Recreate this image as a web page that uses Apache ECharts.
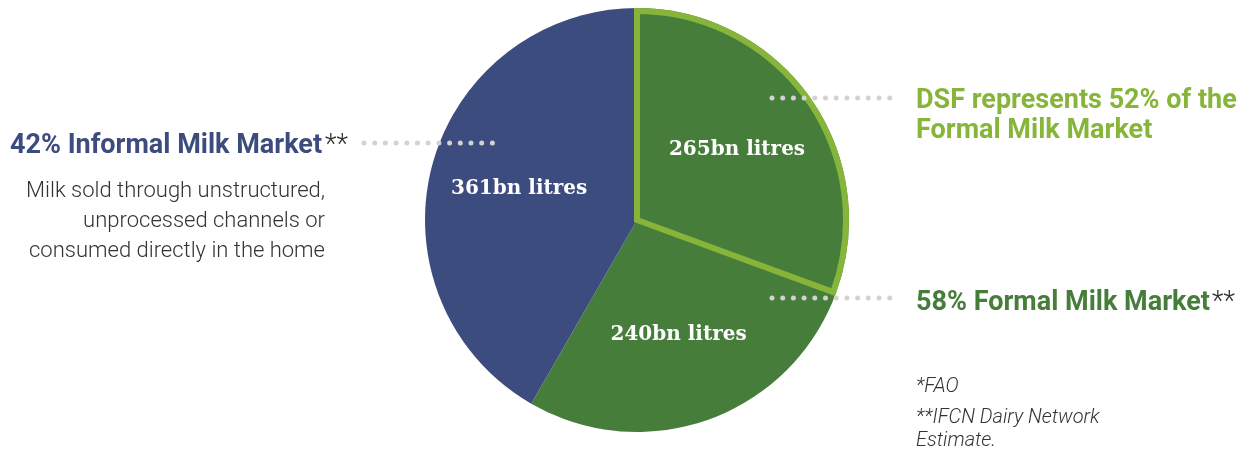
<!DOCTYPE html>
<html lang="en">
<head>
    <meta charset="UTF-8">
    <title>Milk market</title>
    <style>
        html, body { margin: 0; padding: 0; background: #fff; }
        #chart { width: 1252px; height: 452px; }
    </style>
</head>
<body>
    <div id="chart"></div>
    <script src="https://cdn.jsdelivr.net/npm/echarts@6/dist/echarts.min.js"></script>
    <script>
        // slices, clockwise from 12 o'clock
        var categories = ['DSF', 'Other formal', 'Informal'];
        var values = [265, 240, 361];
        var sliceLabels = ['265bn litres', '240bn litres', '361bn litres'];
        var colors = ['#477d3a', '#477d3a', '#3d4c7e'];

        var blue = '#3d4c7e', green = '#477d3a', lime = '#86b53a', grey = '#333';

        var chart = echarts.init(document.getElementById('chart'));

        function dots(x1, x2, y) {
            return {
                type: 'line',
                shape: { x1: x1, y1: y, x2: x2, y2: y },
                style: { stroke: '#d2d2d2', lineWidth: 5, lineCap: 'round', lineDash: [0, 10.7] },
                z: 100
            };
        }

        function txt(x, y, style) {
            style.verticalAlign = 'middle';
            return { type: 'text', x: x, y: y, z: 100, style: style };
        }

        var option = {
            animation: false,
            series: [{
                name: 'base',
                type: 'pie',
                center: [637, 220],
                radius: [0, 212],
                startAngle: 90,
                silent: true,
                label: { show: false },
                labelLine: { show: false },
                data: categories.map(function (c, i) {
                    return { name: c, value: values[i], itemStyle: { color: colors[i] } };
                })
            }, {
                name: 'dsf border',
                type: 'pie',
                center: [637, 220],
                radius: [0, 209],
                startAngle: 90,
                silent: true,
                label: { show: false },
                labelLine: { show: false },
                data: categories.map(function (c, i) {
                    return {
                        name: c, value: values[i],
                        itemStyle: i === 0
                            ? { color: 'rgba(0,0,0,0)', borderColor: lime, borderWidth: 6, borderJoin: 'miter' }
                            : { color: 'rgba(0,0,0,0)', borderWidth: 0 }
                    };
                })
            }, {
                name: 'labels',
                type: 'pie',
                center: [637, 220],
                radius: [0, 238],
                startAngle: 90,
                silent: true,
                z: 5,
                itemStyle: { color: 'rgba(0,0,0,0)' },
                label: {
                    show: true,
                    position: 'inside',
                    color: '#fff',
                    fontFamily: '"DejaVu Serif", serif',
                    fontWeight: 'bold',
                    fontSize: 20,
                    formatter: function (p) { return sliceLabels[p.dataIndex]; }
                },
                labelLine: { show: false },
                data: categories.map(function (c, i) {
                    return { name: c, value: values[i] };
                })
            }],
            graphic: [
                dots(364, 496, 143),
                dots(772, 900, 98),
                dots(772, 900, 298),
                txt(10, 146, {
                    text: '{h|42% Informal Milk Market}{s|**}',
                    rich: {
                        h: { fontFamily: 'Roboto', fontWeight: 'bold', fontSize: 27, fill: blue },
                        s: { fontFamily: 'Roboto', fontWeight: 300, fontSize: 27, fill: grey, padding: [0, 0, 0, 3] }
                    }
                }),
                txt(325, 191, { text: 'Milk sold through unstructured,', fontFamily: 'Roboto', fontWeight: 300, fontSize: 22, fill: grey, align: 'right' }),
                txt(325, 221, { text: 'unprocessed channels or', fontFamily: 'Roboto', fontWeight: 300, fontSize: 22, fill: grey, align: 'right' }),
                txt(325, 251, { text: 'consumed directly in the home', fontFamily: 'Roboto', fontWeight: 300, fontSize: 22, fill: grey, align: 'right' }),
                txt(916, 101, { text: 'DSF represents 52% of the', fontFamily: 'Roboto', fontWeight: 'bold', fontSize: 27, fill: lime }),
                txt(916, 131, { text: 'Formal Milk Market', fontFamily: 'Roboto', fontWeight: 'bold', fontSize: 27, fill: lime }),
                txt(916, 303, {
                    text: '{h|58% Formal Milk Market}{s|**}',
                    rich: {
                        h: { fontFamily: 'Roboto', fontWeight: 'bold', fontSize: 27, fill: green },
                        s: { fontFamily: 'Roboto', fontWeight: 300, fontSize: 27, fill: grey, padding: [0, 0, 0, 2] }
                    }
                }),
                txt(916, 387, { text: '*FAO', fontFamily: 'Roboto', fontStyle: 'italic', fontWeight: 300, fontSize: 20, fill: grey }),
                txt(916, 418, { text: '**IFCN Dairy Network', fontFamily: 'Roboto', fontStyle: 'italic', fontWeight: 300, fontSize: 20, fill: grey }),
                txt(916, 441, { text: 'Estimate.', fontFamily: 'Roboto', fontStyle: 'italic', fontWeight: 300, fontSize: 20, fill: grey })
            ]
        };

        chart.setOption(option);
    </script>
</body>
</html>
